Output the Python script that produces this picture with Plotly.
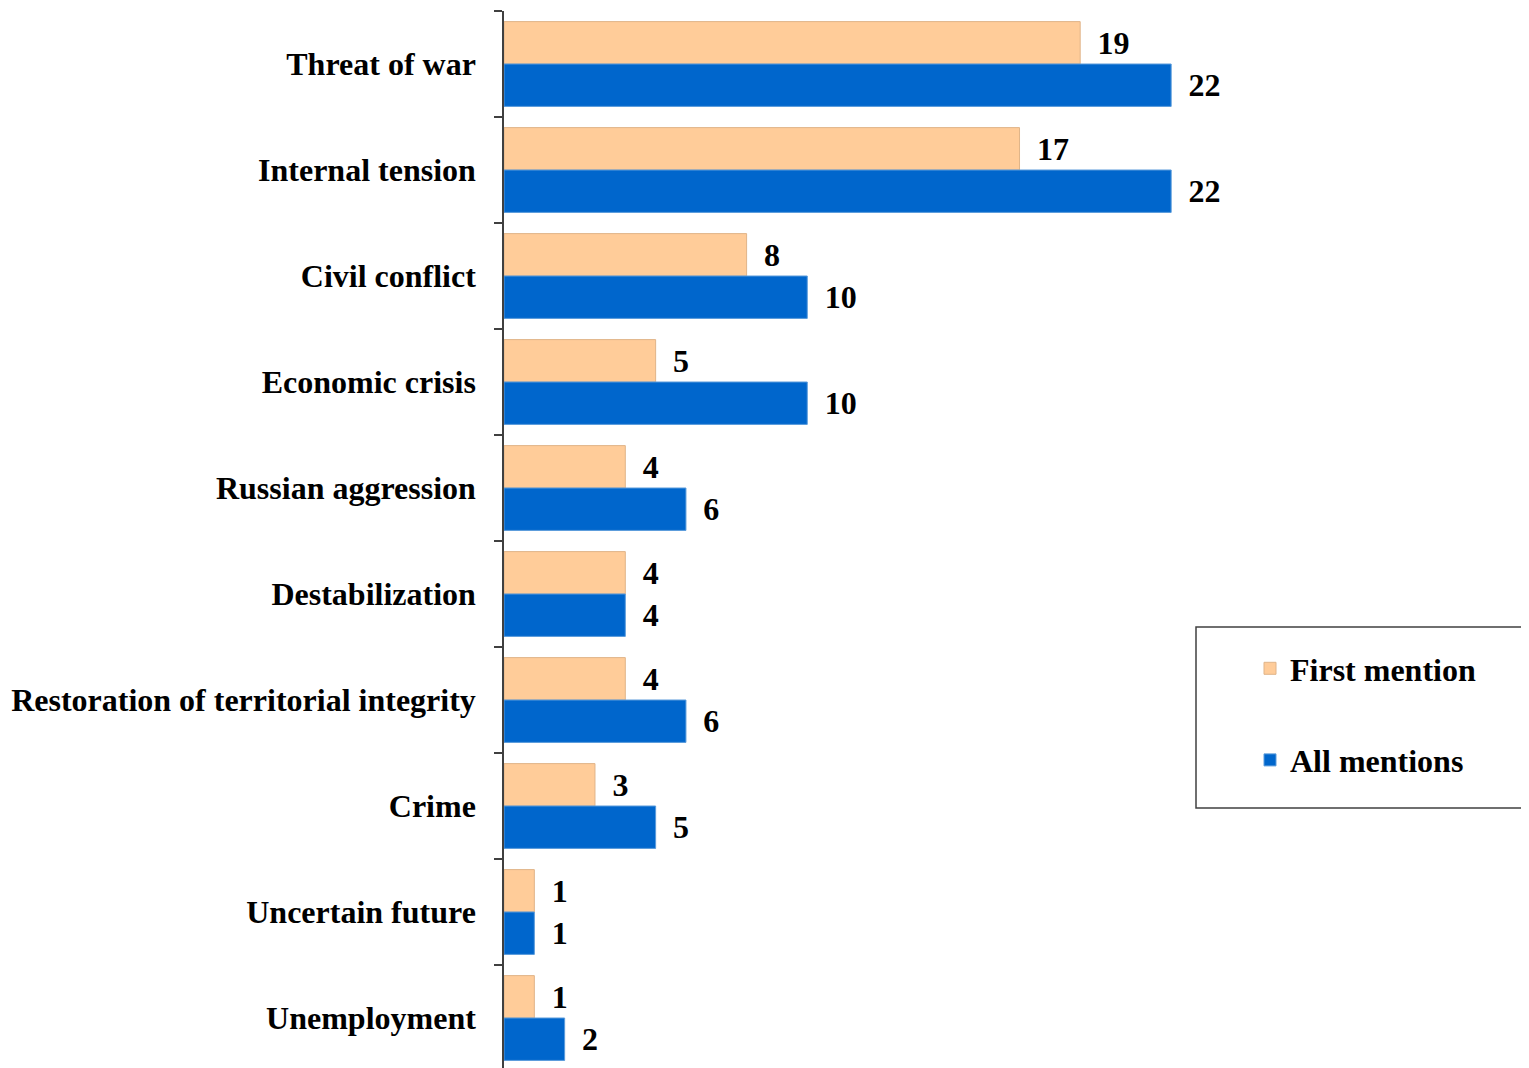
import plotly.graph_objects as go

categories = ["Threat of war", "Internal tension", "Civil conflict", "Economic crisis",
              "Russian aggression", "Destabilization", "Restoration of territorial integrity",
              "Crime", "Uncertain future", "Unemployment"]
first_mention = [19, 17, 8, 5, 4, 4, 4, 3, 1, 1]
all_mentions = [22, 22, 10, 10, 6, 4, 6, 5, 1, 2]

FONT = "Liberation Serif"
FS = 32
OFF = 8  # page body margin
W, H = 1529 - OFF, 1068 - OFF
L, T = 504 - OFF, 11 - OFF
plot_w, plot_h = W - L, H - T


def px_x(x):
    # screen pixel -> paper x
    return (x - OFF - L) / plot_w


def px_y(y):
    # screen pixel -> paper y
    return (1068 - y) / plot_h


label_tpl = " \u2009%{x}"

fig = go.Figure()
fig.add_trace(go.Bar(y=categories, x=first_mention, orientation="h", name="First mention",
                     marker=dict(color="#FFCC99", line=dict(color="#E0B489", width=1)),
                     texttemplate=label_tpl, textposition="outside",
                     constraintext="none", cliponaxis=False,
                     textfont=dict(family=FONT, size=FS, color="black", weight="bold"),
                     legendgroup="a"))
fig.add_trace(go.Bar(y=categories, x=all_mentions, orientation="h", name="All mentions",
                     marker=dict(color="#0066CC", line=dict(color="#5A9BDB", width=1)),
                     texttemplate=label_tpl, textposition="outside",
                     constraintext="none", cliponaxis=False,
                     textfont=dict(family=FONT, size=FS, color="black", weight="bold"),
                     legendgroup="b"))

fig.add_shape(type="rect", xref="paper", yref="paper",
              x0=px_x(1196), x1=1.05, y0=px_y(808), y1=px_y(627),
              line=dict(color="#404040", width=1.5), fillcolor="rgba(0,0,0,0)")

fig.update_layout(
    width=W, height=H,
    margin=dict(l=L, r=0, t=T, b=0),
    plot_bgcolor="white", paper_bgcolor="white",
    barmode="group", bargap=0.2, bargroupgap=0,
    font=dict(family=FONT, size=FS, color="black"),
    xaxis=dict(range=[0, 33.8], showgrid=False, zeroline=False, showline=False,
               showticklabels=False, ticks=""),
    yaxis=dict(range=[-0.5 + plot_h / 106, -0.5], showgrid=False, zeroline=False,
               showline=True, linecolor="#404040", linewidth=1.5,
               ticks="outside", ticklen=8, tickcolor="#404040", tickwidth=1.5,
               tickson="boundaries", ticklabelstandoff=20,
               tickfont=dict(family=FONT, size=FS, color="black", weight="bold")),
    legend=dict(x=px_x(1250), xanchor="left", y=px_y(641), yanchor="top",
                bgcolor="rgba(0,0,0,0)", borderwidth=0, tracegroupgap=47,
                traceorder="grouped",
                font=dict(family=FONT, size=FS, color="black", weight="bold")),
    showlegend=True,
)

fig.write_html("out.html")
